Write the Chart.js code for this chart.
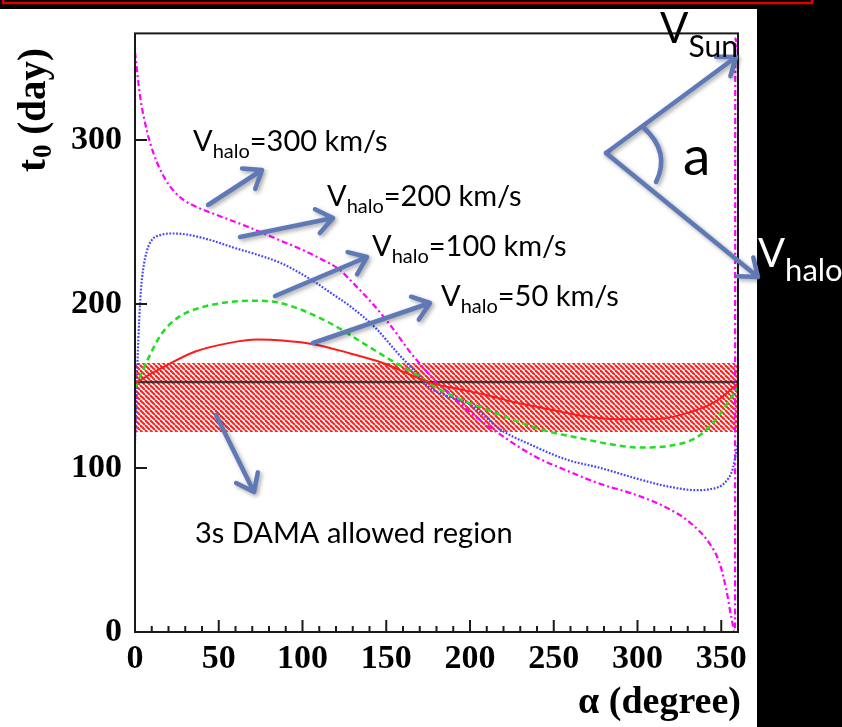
<!DOCTYPE html>
<html>
<head>
<meta charset="utf-8">
<script src="https://cdn.jsdelivr.net/npm/chart.js@4.4.1/dist/chart.umd.min.js"></script>
<style>
  html, body { margin: 0; padding: 0; background: #000; }
  canvas { display: block; }
</style>
</head>
<body>
<canvas id="c" width="842" height="727"></canvas>
<script>
// Phase t0 of the annual modulation versus the angle alpha between V_sun and V_halo
const alphaV300 = [0, 3, 7, 11, 15, 20, 27, 35, 47, 60, 70, 86, 100, 110, 122, 130, 142, 154, 164, 174, 181, 188, 200, 218, 238, 258, 278, 298, 317, 331, 343, 349, 353, 356, 358.2, 358.4, 360];
const t0V300    = [353.5, 327, 306, 292, 282, 273, 265, 260, 255, 250, 246, 239, 233, 228, 221, 213, 200, 185, 171, 159, 151, 145.5, 134, 120.5, 107.5, 98.3, 90.2, 84, 76, 67, 54, 42, 26, 9, 0.5, 362, 353.5];

const alphaV200 = [0, 0.8, 1.5, 2.5, 3.5, 5, 7, 10, 15, 22, 30, 45, 60, 70, 87, 100, 108, 118, 128, 144, 156, 166, 176, 186, 200, 218, 238, 258, 278, 298, 317, 335, 343, 353, 357, 359.4, 360];
const t0V200    = [115, 140, 165, 190, 208, 222, 232, 239, 242, 243, 242.5, 239, 234, 231, 225, 218, 213, 206, 199, 185, 171, 160, 149, 144, 138.8, 123.6, 113.4, 105, 100, 94, 89, 86.5, 87, 92, 100, 112.4, 115];

const alphaV100 = [0, 4, 8, 16, 26, 40, 55, 70, 85, 98, 118, 138, 154, 168, 180, 194, 208, 228, 246, 264, 284, 301, 319, 335, 345, 353, 360];
const t0V100    = [149, 158, 167, 182, 192, 198, 201, 202, 201, 197, 187.5, 175, 165, 157, 149, 142, 136.5, 128.5, 122.5, 118.5, 114.5, 112.5, 113.5, 118.5, 127.5, 138.5, 149];

const alphaV50 = [0, 3, 16, 36, 55, 73, 88, 108, 128, 148, 164, 180, 194, 208, 228, 248, 268, 288, 308, 327, 347, 360];
const t0V50    = [151.5, 153.5, 161, 171, 176, 178.3, 177.7, 175.2, 170, 164, 157, 151, 148, 145, 139.8, 135.7, 131.7, 129.7, 129.7, 132.7, 140.8, 151.5];

// Expected phase (June 2) and the 3 sigma DAMA band
const expectedT0 = 152.5;
const damaLow = 122;
const damaHigh = 164;

// Axis ranges and tick values
const alphaRange = [0, 360];
const t0Range = [0, 365];
const alphaMajorTicks = [0, 50, 100, 150, 200, 250, 300, 350];
const alphaMinorStep = 10;
const t0MajorTicks = [0, 100, 200, 300];

const toPoints = (xs, ys) => xs.map((x, i) => ({ x: x, y: ys[i] }));

const serifBold = "'Liberation Serif', 'Times New Roman', 'DejaVu Serif', serif";
const sans = "Lato, 'Open Sans', 'Noto Sans', sans-serif";
const arrowColor = '#5f78b6';

function makeHatch() {
  const s = 5;
  const c = document.createElement('canvas');
  c.width = s; c.height = s;
  const g = c.getContext('2d');
  g.fillStyle = '#ffffff';
  g.fillRect(0, 0, s, s);
  g.strokeStyle = '#ff2020';
  g.lineWidth = 2.1;
  for (let k = -1; k <= 1; k++) {
    g.beginPath();
    g.moveTo(k * s, 0);
    g.lineTo(k * s + s, s);
    g.stroke();
  }
  return c;
}

function arrow(ctx, x0, y0, x1, y1) {
  const ang = Math.atan2(y1 - y0, x1 - x0);
  const arm = 20, spread = 0.65;
  ctx.beginPath();
  ctx.moveTo(x0, y0);
  ctx.lineTo(x1, y1);
  ctx.moveTo(x1 - arm * Math.cos(ang - spread), y1 - arm * Math.sin(ang - spread));
  ctx.lineTo(x1, y1);
  ctx.lineTo(x1 - arm * Math.cos(ang + spread), y1 - arm * Math.sin(ang + spread));
  ctx.stroke();
}

function subLabel(ctx, x, y, main, sub, rest, size, subSize, drop, color) {
  ctx.fillStyle = color;
  ctx.textBaseline = 'alphabetic';
  ctx.textAlign = 'left';
  ctx.font = size + 'px ' + sans;
  ctx.fillText(main, x, y);
  let cx = x + ctx.measureText(main).width;
  ctx.font = subSize + 'px ' + sans;
  ctx.fillText(sub, cx, y + drop);
  cx += ctx.measureText(sub).width;
  if (rest) {
    ctx.font = size + 'px ' + sans;
    ctx.fillText(rest, cx, y);
  }
}

const decor = {
  id: 'decor',
  beforeDraw(chart) {
    const ctx = chart.ctx;
    ctx.save();
    ctx.fillStyle = '#000';
    ctx.fillRect(0, 0, chart.width, chart.height);
    ctx.fillStyle = '#fff';
    ctx.fillRect(0, 9, 757, chart.height - 9);
    ctx.strokeStyle = '#e00000';
    ctx.lineWidth = 2.5;
    ctx.strokeRect(3, -10, 809, 13);
    ctx.restore();
  },
  beforeDatasetsDraw(chart) {
    const ctx = chart.ctx, a = chart.chartArea, ys = chart.scales.y;
    const top = ys.getPixelForValue(damaHigh), bot = ys.getPixelForValue(damaLow);
    ctx.save();
    ctx.fillStyle = ctx.createPattern(makeHatch(), 'repeat');
    ctx.fillRect(a.left, top, a.right - a.left, bot - top);
    ctx.restore();
  },
  afterDatasetsDraw(chart) {
    const ctx = chart.ctx, a = chart.chartArea, xs = chart.scales.x, ys = chart.scales.y;
    ctx.save();
    ctx.strokeStyle = '#1a1a1a';
    ctx.lineWidth = 2;
    ctx.strokeRect(a.left, a.top, a.right - a.left, a.bottom - a.top);
    ctx.beginPath();
    for (let v = alphaRange[0]; v <= alphaRange[1]; v += alphaMinorStep) {
      const px = xs.getPixelForValue(v);
      const len = alphaMajorTicks.includes(v) ? 12 : 6;
      ctx.moveTo(px, a.bottom);
      ctx.lineTo(px, a.bottom - len);
    }
    t0MajorTicks.forEach(v => {
      const py = ys.getPixelForValue(v);
      ctx.moveTo(a.left, py);
      ctx.lineTo(a.left + 12, py);
    });
    ctx.stroke();
    ctx.restore();
  },
  afterDraw(chart) {
    const ctx = chart.ctx;
    ctx.save();
    // axis titles
    ctx.fillStyle = '#000';
    ctx.textBaseline = 'alphabetic';
    ctx.font = 'bold 38px ' + serifBold;
    ctx.textAlign = 'right';
    ctx.fillText('\u03B1 (degree)', 741, 713);

    ctx.save();
    ctx.translate(45, 172);
    ctx.rotate(-Math.PI / 2);
    ctx.textAlign = 'left';
    ctx.font = 'bold 39px ' + serifBold;
    ctx.fillText('t', 0, 0);
    let w = ctx.measureText('t').width;
    ctx.font = 'bold 27px ' + serifBold;
    ctx.fillText('0', w + 1, 6);
    w += 1 + ctx.measureText('0').width;
    ctx.font = 'bold 39px ' + serifBold;
    ctx.fillText(' (day)', w, 0);
    ctx.restore();

    // arrows
    ctx.save();
    ctx.strokeStyle = arrowColor;
    ctx.lineWidth = 4.5;
    ctx.lineCap = 'round';
    ctx.lineJoin = 'round';
    ctx.shadowColor = 'rgba(0,0,0,0.35)';
    ctx.shadowBlur = 4;
    ctx.shadowOffsetX = 2;
    ctx.shadowOffsetY = 2;
    arrow(ctx, 208, 205, 262, 170);
    arrow(ctx, 240, 237, 333, 218);
    arrow(ctx, 275, 296, 367, 257);
    arrow(ctx, 313, 343, 430, 303);
    arrow(ctx, 216, 415, 254, 492);
    arrow(ctx, 606, 153, 736, 57);
    arrow(ctx, 606, 153, 758, 277);
    ctx.beginPath();
    ctx.moveTo(643, 127);
    ctx.quadraticCurveTo(671, 152, 656, 182);
    ctx.stroke();
    ctx.restore();

    // labels
    subLabel(ctx, 193, 151, 'V', 'halo', '=300 km/s', 29, 20, 7, '#000');
    subLabel(ctx, 327, 206, 'V', 'halo', '=200 km/s', 29, 20, 7, '#000');
    subLabel(ctx, 372, 256, 'V', 'halo', '=100 km/s', 29, 20, 7, '#000');
    subLabel(ctx, 441, 306, 'V', 'halo', '=50 km/s', 29, 20, 7, '#000');
    subLabel(ctx, 660, 43, 'V', 'Sun', '', 42, 30, 14, '#000');
    subLabel(ctx, 758, 267, 'V', 'halo', '', 40, 31, 14, '#fff');
    ctx.fillStyle = '#000';
    ctx.font = '55px ' + sans;
    ctx.fillText('a', 683, 175);
    ctx.font = '29px ' + sans;
    ctx.fillText('3s DAMA allowed region', 195, 543);
    ctx.restore();
  }
};

const tickFont = { family: serifBold, size: 34, weight: 'bold' };

new Chart(document.getElementById('c'), {
  type: 'line',
  data: {
    datasets: [
      { data: toPoints(alphaV50, t0V50), borderColor: '#ff1a1a', borderWidth: 2, pointRadius: 0, cubicInterpolationMode: 'monotone' },
      { data: toPoints(alphaV100, t0V100), borderColor: '#1ee01e', borderWidth: 2.5, borderDash: [6, 4], pointRadius: 0, cubicInterpolationMode: 'monotone' },
      { data: toPoints(alphaV200, t0V200), borderColor: '#4646ff', borderWidth: 2.2, borderDash: [1.8, 1.6], pointRadius: 0, cubicInterpolationMode: 'monotone' },
      { data: toPoints(alphaV300, t0V300), borderColor: '#ff00ff', borderWidth: 2.2, borderDash: [6, 3, 2, 3], pointRadius: 0, cubicInterpolationMode: 'monotone' },
      { data: toPoints(alphaRange, [expectedT0, expectedT0]), borderColor: 'rgba(40,40,40,0.85)', borderWidth: 2.5, pointRadius: 0 }
    ]
  },
  options: {
    responsive: false,
    animation: false,
    devicePixelRatio: 1,
    layout: { padding: { left: 0, top: 33, right: 104, bottom: 0 } },
    plugins: { legend: { display: false }, tooltip: { enabled: false } },
    scales: {
      x: {
        type: 'linear', min: alphaRange[0], max: alphaRange[1],
        afterBuildTicks(s) { s.ticks = alphaMajorTicks.map(v => ({ value: v })); },
        afterFit(s) { s.height = 95; },
        grid: { display: false, drawTicks: false }, border: { display: false },
        ticks: { padding: 7, color: '#000', font: tickFont, maxRotation: 0, autoSkip: false }
      },
      y: {
        type: 'linear', min: t0Range[0], max: t0Range[1],
        afterBuildTicks(s) { s.ticks = t0MajorTicks.map(v => ({ value: v })); },
        afterFit(s) { s.width = 135; },
        grid: { display: false, drawTicks: false }, border: { display: false },
        ticks: { padding: 13, color: '#000', font: tickFont, autoSkip: false }
      }
    }
  },
  plugins: [decor]
});
</script>
</body>
</html>
